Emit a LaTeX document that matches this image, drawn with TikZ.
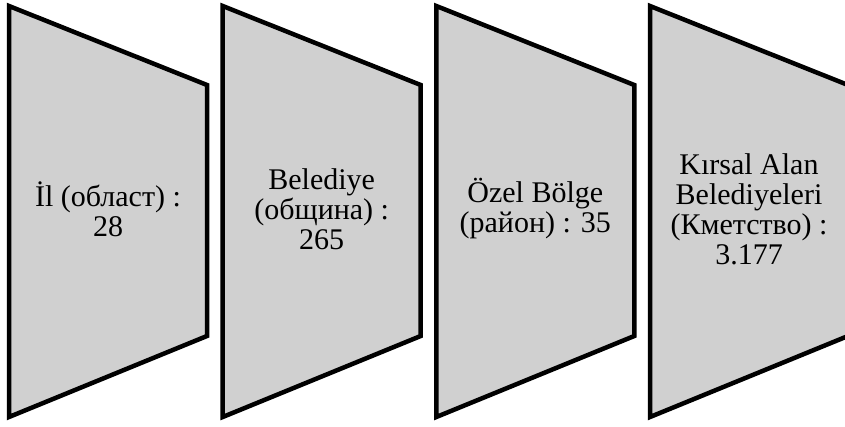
\documentclass[tikz,border=0pt]{standalone}
\usepackage{fontspec}
\setmainfont{Liberation Serif}
\definecolor{stagegray}{RGB}{208,208,208}
\begin{document}
\begin{tikzpicture}[x=1pt,y=-1pt,
    stage/.style={draw=black,line width=4.5pt,fill=stagegray},
    stagetext/.style={align=center,font=\fontsize{30}{30}\selectfont}]
  \useasboundingbox (0,0) rectangle (845,426);
  \foreach \n/\x/\txt in {1/9/{İl (област) :\\28},
                          2/222.7/{Belediye\\(община) :\\265},
                          3/436.3/{Özel Bölge\\(район) : 35},
                          4/650/{Kırsal Alan\\Belediyeleri\\(Кметство) :\\3.177}} {
    \coordinate (tl\n) at (\x,6);
    \coordinate (tr\n) at (\x+198,85);
    \coordinate (br\n) at (\x+198,336);
    \coordinate (bl\n) at (\x,417);
    \draw[stage] (tl\n) -- (tr\n) -- (br\n) -- (bl\n) -- cycle;
    \node[stagetext] (t\n) at (\x+99,209) {\txt};
  }
\end{tikzpicture}
\end{document}
